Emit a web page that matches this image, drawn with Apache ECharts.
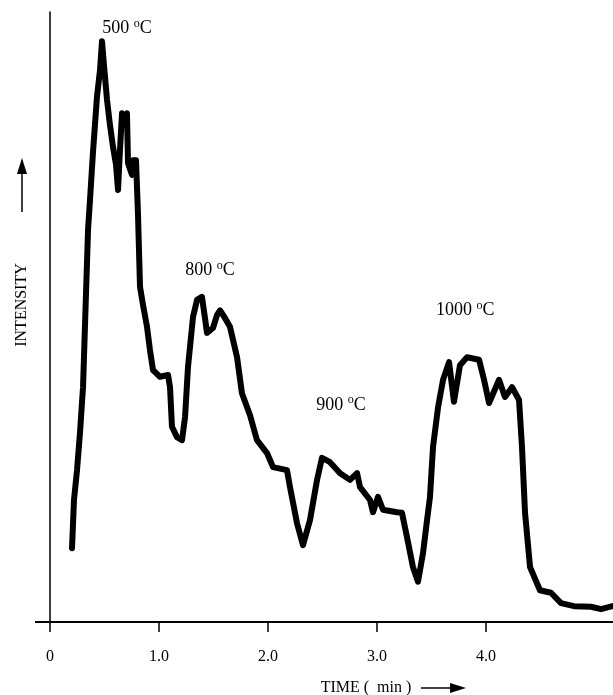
<!DOCTYPE html>
<html><head><meta charset="utf-8">
<script src="https://cdn.jsdelivr.net/npm/echarts@6/dist/echarts.min.js"></script>
<style>html,body{margin:0;padding:0;background:#fff}#c{width:613px;height:695px}</style>
</head><body><div id="c"></div>
<script>
const timeMin = [0.202,0.220,0.248,0.275,0.303,0.349,0.367,0.394,0.431,0.459,0.477,0.495,0.523,0.550,0.578,0.606,0.624,0.642,0.661,0.688,0.706,0.716,0.752,0.761,0.789,0.807,0.826,0.853,0.890,0.917,0.945,1.009,1.083,1.101,1.119,1.165,1.211,1.239,1.266,1.312,1.349,1.394,1.422,1.440,1.495,1.532,1.560,1.606,1.651,1.716,1.761,1.835,1.899,1.991,2.046,2.174,2.202,2.266,2.321,2.385,2.450,2.495,2.569,2.661,2.752,2.817,2.844,2.936,2.963,3.009,3.055,3.183,3.229,3.275,3.330,3.376,3.422,3.459,3.486,3.514,3.560,3.606,3.661,3.706,3.761,3.826,3.936,3.982,4.028,4.119,4.174,4.239,4.303,4.330,4.358,4.404,4.495,4.596,4.688,4.807,4.963,5.055,5.160];
const intensity = [12.1,20.0,24.9,31.0,38.5,64.3,69.2,76.9,86.1,90.5,95.2,91.3,85.6,81.5,77.9,74.9,70.8,77.4,83.4,82.6,83.4,75.2,73.3,75.7,75.7,67.0,54.9,52.0,48.4,44.6,41.3,40.2,40.5,38.5,32.0,30.3,29.8,33.6,41.8,50.0,52.8,53.3,49.8,47.4,48.2,50.3,51.1,49.8,48.4,43.4,37.5,33.9,29.8,27.7,25.4,24.9,22.1,16.2,12.6,16.7,23.3,26.9,26.2,24.4,23.3,24.4,22.1,20.0,18.0,20.5,18.4,18.0,17.9,13.9,9.0,6.6,11.3,16.7,20.5,28.7,35.2,39.7,42.6,36.1,42.1,43.4,43.0,39.7,35.9,39.7,36.9,38.5,36.4,28.7,17.9,9.0,5.2,4.8,3.1,2.6,2.5,2.1,2.6];
const tickValues = [0,1,2,3,4];
const tickLabels = ['0','1.0','2.0','3.0','4.0'];
const peakLabels = ['500','800','900','1000'];
const peakPos = [[0.706,97.4],[1.468,57.7],[2.67,35.6],[3.81,51.1]];
const xTitle = 'TIME (  min )';
const yTitle = 'INTENSITY';

const FONT = '"Liberation Serif","Times New Roman",serif';
const chart = echarts.init(document.getElementById('c'));
const data = timeMin.map((t,i)=>[t,intensity[i]]);
const rich = {n:{fontFamily:FONT,fontSize:18,color:'#000'},s:{fontFamily:FONT,fontSize:12,color:'#000',padding:[0,0,9,0]}};
chart.setOption({
  animation:false,
  grid:{left:50,right:0,top:12,bottom:73},
  xAxis:[{
    type:'value',min:0,max:5.165,
    axisLine:{show:true,onZero:false,lineStyle:{color:'#000',width:2}},
    axisTick:{show:true,inside:false,length:10,customValues:tickValues,lineStyle:{color:'#000',width:1.5}},
    axisLabel:{customValues:tickValues,margin:27,fontFamily:FONT,fontSize:16,color:'#000',
      formatter:v=>tickLabels[tickValues.indexOf(Math.round(v))] ?? ''},
    splitLine:{show:false}
  },{
    type:'value',position:'top',min:0,max:5.165,
    axisLine:{show:true,lineStyle:{color:'#000',width:2}},
    axisTick:{show:false},axisLabel:{show:false},splitLine:{show:false}
  }],
  yAxis:{type:'value',min:0,max:100,
    axisLine:{show:true,lineStyle:{color:'#000',width:1.5}},
    axisTick:{show:false},axisLabel:{show:false},splitLine:{show:false}},
  series:[{
    type:'line',data:data,showSymbol:false,symbol:'none',
    lineStyle:{color:'#000',width:6,join:'round',cap:'round'},
    markPoint:{symbol:'circle',symbolSize:0,silent:true,
      label:{show:true,position:'inside',rich:rich},
      data:peakLabels.map((p,i)=>({coord:peakPos[i],label:{formatter:'{n|'+p+' }{s|o}{n|C}'}}))
    }
  }],
  graphic:[
    {type:'line',shape:{x1:35,y1:622,x2:50,y2:622},style:{stroke:'#000',lineWidth:2}},
    {type:'text',x:22,y:305,rotation:Math.PI/2,style:{text:yTitle,font:'16px '+FONT,fill:'#000',align:'center',verticalAlign:'middle'}},
    {type:'line',shape:{x1:22,y1:212,x2:22,y2:172},style:{stroke:'#000',lineWidth:1.5}},
    {type:'polygon',shape:{points:[[22,158],[17,174],[27,174]]},style:{fill:'#000'}},
    {type:'text',x:366,y:688,style:{text:xTitle,font:'16px '+FONT,fill:'#000',align:'center',verticalAlign:'middle'}},
    {type:'line',shape:{x1:421,y1:688,x2:452,y2:688},style:{stroke:'#000',lineWidth:1.5}},
    {type:'polygon',shape:{points:[[466,688],[450,683],[450,693]]},style:{fill:'#000'}}
  ]
});
</script></body></html>
